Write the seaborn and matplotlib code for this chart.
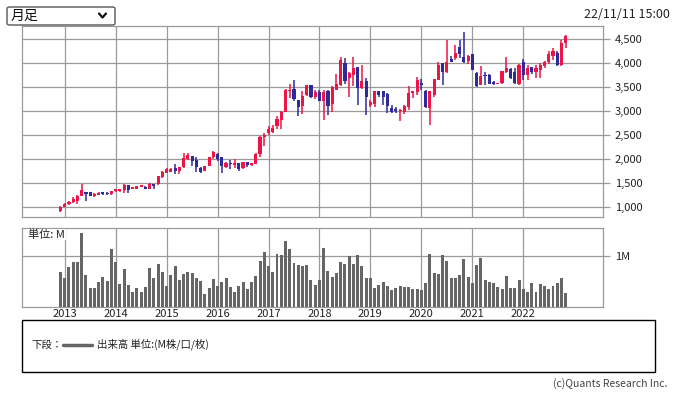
import numpy as np
import pandas as pd
import seaborn as sns
import matplotlib
matplotlib.use("Agg")
import matplotlib.pyplot as plt
from matplotlib.patches import FancyBboxPatch, Rectangle
from matplotlib.lines import Line2D

# monthly bars, Dec 2012 .. Nov 2022
months = pd.date_range("2012-12-01", periods=120, freq="MS")

open_ = [900, 1000, 1050, 1100, 1120, 1222, 1305, 1305, 1222, 1250, 1305, 1285, 1257,
         1320, 1330, 1347, 1445, 1375, 1380, 1420, 1420, 1380, 1480, 1465, 1625,
         1710, 1735, 1800, 1745, 1830, 1990, 2055, 1985, 1815, 1745, 1850, 2030,
         2105, 2040, 1835, 1905, 1880, 1905, 1800, 1935, 1880, 1895, 2110, 2460,
         2540, 2555, 2695, 2820, 2985, 3410, 3465, 3235, 3110, 3340, 3535, 3290,
         3395, 3200, 3425, 3150, 3445, 3550, 4000, 3700, 3745, 3925, 3480, 3630,
         3130, 3145, 3410, 3420, 3350, 3060, 3050, 3010, 2980, 3075, 3375, 3390,
         3585, 3425, 3060, 3340, 3650, 4000, 3825, 4090, 4100, 4330, 4140, 4055,
         4195, 3790, 3550, 3755, 3755, 3605, 3570, 3585, 3815, 3880, 3825, 3565,
         4015, 3755, 3930, 3825, 3860, 3950, 4020, 4160, 4210, 3965, 4415]
high = [1005, 1075, 1110, 1200, 1243, 1480, 1310, 1310, 1280, 1300, 1310, 1300, 1330,
        1365, 1380, 1465, 1450, 1420, 1440, 1460, 1425, 1500, 1485, 1650, 1740,
        1800, 1800, 1900, 1840, 2125, 2130, 2070, 2035, 1830, 1860, 2040, 2175,
        2125, 2045, 1935, 1985, 2000, 1910, 1945, 1940, 1920, 2120, 2485, 2540,
        2695, 2715, 2890, 3000, 3460, 3570, 3650, 3240, 3410, 3550, 3550, 3430,
        3445, 3445, 3445, 3515, 3770, 4140, 4105, 3825, 4140, 3930, 3965, 3700,
        3235, 3425, 3415, 3425, 3375, 3130, 3075, 3050, 3130, 3515, 3425, 3720,
        3675, 3430, 3420, 3680, 4035, 4000, 4485, 4160, 4380, 4485, 4660, 4175,
        4200, 3825, 3945, 3825, 3770, 3620, 3595, 3845, 4140, 3895, 3895, 3980,
        4085, 3965, 3930, 3965, 4000, 4050, 4255, 4325, 4245, 4485, 4590]
low = [890, 995, 1045, 1070, 1050, 1215, 1118, 1215, 1205, 1240, 1235, 1250, 1250,
       1300, 1310, 1290, 1278, 1360, 1370, 1410, 1360, 1370, 1360, 1450, 1610,
       1700, 1730, 1675, 1675, 1810, 1975, 1850, 1720, 1710, 1740, 1845, 2000,
       1950, 1700, 1810, 1780, 1810, 1745, 1795, 1835, 1860, 1890, 2040, 2265,
       2505, 2540, 2625, 2625, 2980, 3270, 3220, 2890, 2935, 3320, 3270, 3250,
       3200, 2820, 2910, 2980, 3440, 3515, 3560, 3285, 3515, 3130, 3470, 2910,
       3075, 3075, 3285, 3130, 2960, 2960, 2960, 2785, 2940, 3030, 3270, 3340,
       3445, 3060, 2715, 3300, 3650, 3535, 3790, 4030, 4070, 4100, 4000, 3985,
       3850, 3495, 3535, 3550, 3560, 3550, 3565, 3570, 3805, 3675, 3570, 3550,
       3655, 3655, 3770, 3690, 3690, 3895, 3980, 4070, 3950, 3950, 4325]
close = [995, 1065, 1100, 1165, 1220, 1340, 1257, 1222, 1270, 1290, 1257, 1265, 1326,
         1360, 1365, 1450, 1347, 1410, 1430, 1450, 1380, 1480, 1430, 1640, 1730,
         1790, 1790, 1745, 1830, 2020, 2080, 1950, 1825, 1730, 1855, 2035, 2150,
         2000, 1845, 1915, 1885, 1915, 1780, 1935, 1870, 1915, 2110, 2460, 2490,
         2625, 2645, 2835, 2985, 3430, 3430, 3250, 3085, 3320, 3535, 3285, 3390,
         3200, 3395, 3095, 3495, 3560, 4070, 3630, 3790, 3895, 3480, 3630, 3285,
         3185, 3410, 3325, 3285, 3115, 2980, 2995, 3020, 3095, 3375, 3410, 3650,
         3550, 3075, 3410, 3675, 3965, 3825, 4035, 4035, 4210, 4195, 4035, 4150,
         3860, 3515, 3735, 3735, 3570, 3570, 3585, 3840, 3910, 3700, 3585, 3965,
         3755, 3910, 3825, 3895, 3965, 4035, 4185, 4255, 3965, 4415, 4570]
volume = [0.69,
          0.57, 0.79, 0.89, 0.89, 1.45, 0.63, 0.36, 0.375, 0.49, 0.59, 0.51, 1.14,
          0.89, 0.45, 0.75, 0.43, 0.30, 0.375, 0.30, 0.39, 0.77, 0.57, 0.85, 0.69,
          0.41, 0.63, 0.81, 0.53, 0.65, 0.69, 0.67, 0.57, 0.51, 0.26, 0.375, 0.55,
          0.41, 0.49, 0.57, 0.39, 0.30, 0.41, 0.49, 0.34, 0.49, 0.61, 0.91, 1.09,
          0.81, 0.69, 1.05, 1.03, 1.30, 1.14, 0.87, 0.83, 0.81, 0.83, 0.53, 0.43,
          0.53, 1.16, 0.71, 0.59, 0.67, 0.89, 0.85, 1.01, 0.85, 1.03, 0.81, 0.57,
          0.57, 0.375, 0.43, 0.49, 0.41, 0.32, 0.375, 0.41, 0.39, 0.39, 0.34, 0.355,
          0.32, 0.47, 1.05, 0.67, 0.65, 1.03, 0.91, 0.57, 0.57, 0.63, 0.95, 0.59,
          0.47, 0.83, 0.97, 0.53, 0.49, 0.47, 0.39, 0.34, 0.61, 0.375, 0.375, 0.53,
          0.34, 0.30, 0.47, 0.30, 0.455, 0.41, 0.34, 0.41, 0.47, 0.57, 0.28]

price_ticks = [1000, 1500, 2000, 2500, 3000, 3500, 4000, 4500]

UP = "#ee1446"
DOWN = "#2e2a99"
GRID = "#9a9a9a"

sns.set_style("white")
plt.rcParams["font.family"] = ["Noto Sans CJK JP", "DejaVu Sans"]

df = pd.DataFrame({"month": months, "open": open_, "high": high,
                   "low": low, "close": close, "volume": volume})
df["i"] = np.arange(len(df))
df["up"] = df["close"] >= df["open"]
df["col"] = np.where(df["up"], UP, DOWN)
df["body_lo"] = df[["open", "close"]].min(axis=1)
df["body_h"] = (df["close"] - df["open"]).abs().clip(lower=10)

year_pos = df.loc[df["month"].dt.month == 1, "i"].values
year_lab = df.loc[df["month"].dt.month == 1, "month"].dt.year.astype(str).values

W, H = 677, 395
fig = plt.figure(figsize=(W / 100, H / 100), dpi=100)

def fx(px):
    return px / W

def fy(py):
    return 1 - py / H

left, right = 22, 602.5
axp = fig.add_axes([fx(left), fy(216.7), fx(right) - fx(left), (216.7 - 26) / H])
axv = fig.add_axes([fx(left), fy(306.7), fx(right) - fx(left), (306.7 - 227.7) / H])

# candles
axp.vlines(df["i"], df["low"], df["high"], colors=df["col"], lw=1.1, zorder=3)
axp.bar(df["i"], df["body_h"], bottom=df["body_lo"], width=0.74,
        color=df["col"], linewidth=0, zorder=4)

# volume
sns.barplot(x=df["i"], y=df["volume"], native_scale=True, color="#666666",
            saturation=1, width=0.7, linewidth=0, ax=axv, zorder=3)
axv.set_xlabel("")
axv.set_ylabel("")

xl = (-9.06, 127.66)
for ax in (axp, axv):
    ax.set_xlim(*xl)
    ax.set_xticks(year_pos)
    ax.grid(True, color=GRID, lw=0.9)
    ax.set_axisbelow(True)
    for s in ax.spines.values():
        s.set_color(GRID)
        s.set_linewidth(0.9)
        s.set_visible(True)
    ax.yaxis.tick_right()
    ax.tick_params(axis="y", which="both", right=True, left=False, length=5,
                   color=GRID, width=0.9, labelsize=8, labelcolor="#222222", pad=4)

axp.set_ylim(791, 4778)
axp.set_yticks(price_ticks)
axp.set_yticklabels([f"{v:,}" for v in price_ticks])
axp.tick_params(axis="x", length=0, labelbottom=False)

axv.set_ylim(0, 1.56)
axv.set_yticks([1])
axv.set_yticklabels(["1M"])
axv.set_xticklabels(year_lab)
axv.tick_params(axis="x", length=0, labelsize=8, labelcolor="#222222", pad=2)

fig.text(fx(28), fy(234.5), "単位: M", ha="left", va="center", fontsize=8,
         color="#222222", bbox=dict(fc="white", ec="none", pad=0.5))

# period selector
fig.add_artist(FancyBboxPatch((fx(7), fy(25)), fx(108), 18 / H,
                              boxstyle="round,pad=0,rounding_size=0.004",
                              transform=fig.transFigure, fc="white", ec="#555555", lw=1))
fig.text(fx(11), fy(15.5), "月足", ha="left", va="center", fontsize=10, color="#111111")
fig.add_artist(Line2D([fx(99), fx(102.5), fx(106)], [fy(13.5), fy(17.5), fy(13.5)],
                      transform=fig.transFigure, color="#111111", lw=1.6))

fig.text(fx(670), fy(14.5), "22/11/11 15:00", ha="right", va="center",
         fontsize=9, color="#222222")

# legend box
fig.add_artist(Rectangle((fx(22), fy(372)), fx(633), 52 / H,
                         transform=fig.transFigure, fc="white", ec="black", lw=1))
fig.text(fx(31), fy(344.5), "下段：", ha="left", va="center", fontsize=7.5, color="#222222")
fig.add_artist(Line2D([fx(63), fx(92)], [fy(344.5), fy(344.5)],
                      transform=fig.transFigure, color="#666666", lw=2.5))
fig.text(fx(97), fy(344.5), "出来高 単位:(M株/口/枚)", ha="left", va="center",
         fontsize=7.5, color="#222222")

fig.text(fx(667), fy(383.5), "(c)Quants Research Inc.", ha="right", va="center",
         fontsize=7.5, color="#444444")

fig.savefig("out.png", dpi=100)
